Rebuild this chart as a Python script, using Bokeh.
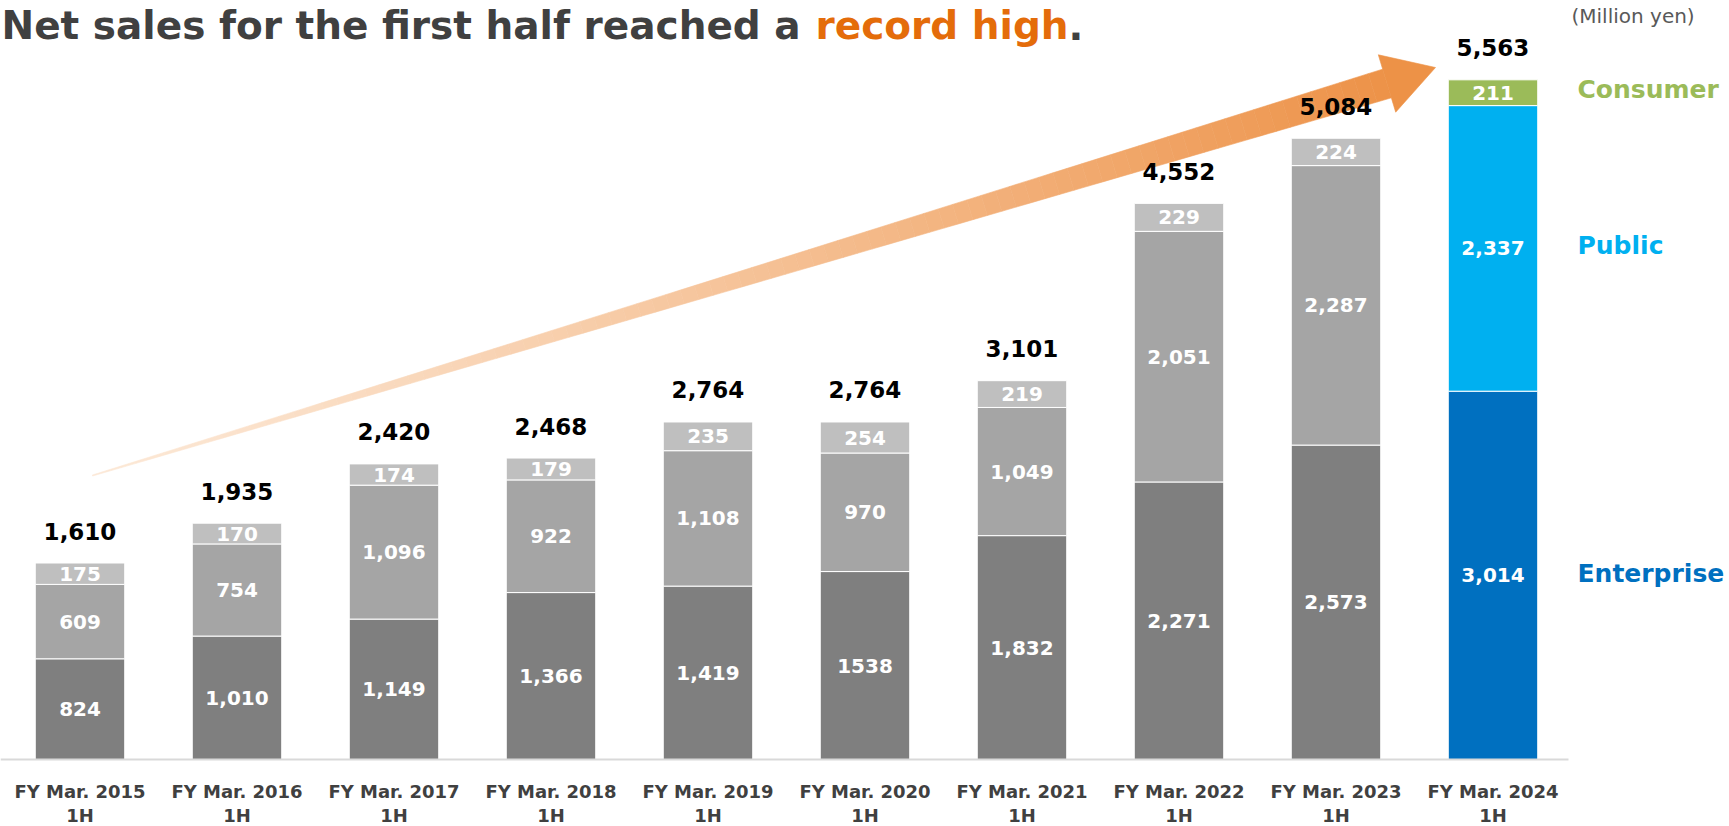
from bokeh.plotting import figure
from bokeh.models import ColumnDataSource, Range1d
from bokeh.core.properties import value
from bokeh.embed import file_html
from bokeh.resources import INLINE

# ---------------- data ----------------
categories = ["FY Mar. 2015", "FY Mar. 2016", "FY Mar. 2017", "FY Mar. 2018", "FY Mar. 2019",
              "FY Mar. 2020", "FY Mar. 2021", "FY Mar. 2022", "FY Mar. 2023", "FY Mar. 2024"]
period = ["1H"] * 10
enterprise = [824, 1010, 1149, 1366, 1419, 1538, 1832, 2271, 2573, 3014]
public = [609, 754, 1096, 922, 1108, 970, 1049, 2051, 2287, 2337]
consumer = [175, 170, 174, 179, 235, 254, 219, 229, 224, 211]
totals = [1610, 1935, 2420, 2468, 2764, 2764, 3101, 4552, 5084, 5563]
enterprise_text = ["824", "1,010", "1,149", "1,366", "1,419", "1538", "1,832", "2,271", "2,573", "3,014"]
segment_names = ["Consumer", "Public", "Enterprise"]

# ---------------- layout constants ----------------
W, H = 1729, 826
X0, DX = 79.5, 157.0          # pixel centre of first bar, pitch
BASE, S = 759.0, 0.1222       # pixel y of zero line, pixels per unit
BAR_W = 0.57

def px2x(fx):
    return (fx - X0) / DX

def px2y(fy):
    return (BASE - fy) / S

FONT = value("DejaVu Sans")

p = figure(width=W, height=H, output_backend="svg", toolbar_location=None,
           x_range=Range1d(px2x(0), px2x(W)), y_range=Range1d(px2y(H), px2y(0)),
           x_axis_type=None, y_axis_type=None, min_border=0)
p.grid.visible = False
p.outline_line_color = None
p.background_fill_color = "white"

# ---------------- arrow (decoration, gradient) ----------------
start = (92, 475)
neck = (1386.5, 83)
tip = (1435, 67)
dxp, dyp = neck[0] - start[0], neck[1] - start[1]
L = (dxp ** 2 + dyp ** 2) ** 0.5
ux, uy = dxp / L, dyp / L
nx, ny = -uy, ux
c0 = (252, 232, 214)
c1 = (237, 146, 72)
NSEG = 90
xs, ys, cols = [], [], []
for k in range(NSEG):
    t0, t1 = k / NSEG, (k + 1) / NSEG
    pts = []
    for t, sgn in ((t0, -1), (t1, -1), (t1, 1), (t0, 1)):
        cx, cy = start[0] + dxp * t, start[1] + dyp * t
        w = 14.5 * t + 0.5
        pts.append((cx + sgn * w * nx, cy + sgn * w * ny))
    xs.append([px2x(a) for a, b in pts])
    ys.append([px2y(b) for a, b in pts])
    tm = ((t0 + t1) / 2) ** 1.2
    c = tuple(int(round(c0[i] + (c1[i] - c0[i]) * tm)) for i in range(3))
    cols.append("#%02x%02x%02x" % c)
p.patches(xs, ys, fill_color=cols, line_color=cols, line_width=0.6)
hw = 30
head = [(neck[0] - hw * nx, neck[1] - hw * ny), tip, (neck[0] + hw * nx, neck[1] + hw * ny)]
p.patch([px2x(a) for a, b in head], [px2y(b) for a, b in head],
        fill_color="#ed9247", line_color="#ed9247", line_width=0.6)

# ---------------- bars ----------------
n = len(categories)
xpos = list(range(n))
ent_col = ["#7f7f7f"] * (n - 1) + ["#0070c0"]
pub_col = ["#a5a5a5"] * (n - 1) + ["#00b0f0"]
con_col = ["#bfbfbf"] * (n - 1) + ["#9bbb59"]
e_top = enterprise[:]
p_top = [enterprise[i] + public[i] for i in range(n)]
c_top = [p_top[i] + consumer[i] for i in range(n)]

src = ColumnDataSource(dict(
    x=xpos, e0=[0] * n, e1=e_top, p1=p_top, c1=c_top,
    ec=ent_col, pc=pub_col, cc=con_col,
    em=[v / 2 for v in e_top],
    pm=[(e_top[i] + p_top[i]) / 2 for i in range(n)],
    cm=[(p_top[i] + c_top[i]) / 2 for i in range(n)],
    et=enterprise_text,
    pt=[f"{v:,}" for v in public],
    ct=[f"{v:,}" for v in consumer],
    tot=[f"{v:,}" for v in totals],
    toty=[c_top[i] + 32 / S for i in range(n)],
))
p.vbar(x="x", width=BAR_W, bottom="e0", top="e1", fill_color="ec", line_color="white", line_width=1, source=src)
p.vbar(x="x", width=BAR_W, bottom="e1", top="p1", fill_color="pc", line_color="white", line_width=1, source=src)
p.vbar(x="x", width=BAR_W, bottom="p1", top="c1", fill_color="cc", line_color="white", line_width=1, source=src)

# baseline
p.segment(x0=[px2x(0)], y0=[0], x1=[px2x(1568)], y1=[0], line_color="#d9d9d9", line_width=2)

# segment labels
for ycol, tcol in (("em", "et"), ("pm", "pt"), ("cm", "ct")):
    p.text(x="x", y=ycol, text=tcol, source=src, text_color="white", text_font=FONT,
           text_font_style="bold", text_font_size="20px", text_align="center", text_baseline="middle")

# totals
p.text(x="x", y="toty", text="tot", source=src, text_color="black", text_font=FONT,
       text_font_style="bold", text_font_size="23px", text_align="center", text_baseline="alphabetic")

# category labels
p.text(x=xpos, y=[px2y(791)] * n, text=categories, text_color="#404040", text_font=FONT,
       text_font_style="bold", text_font_size="18px", text_align="center", text_baseline="alphabetic")
p.text(x=xpos, y=[px2y(815)] * n, text=period, text_color="#404040", text_font=FONT,
       text_font_style="bold", text_font_size="18px", text_align="center", text_baseline="alphabetic")

# segment names at right
last = n - 1
name_y = [src.data["cm"][last] + 3 / S, src.data["pm"][last] + 3 / S, src.data["em"][last] + 2 / S]
p.text(x=[px2x(1577)] * 3, y=name_y, text=segment_names,
       text_color=["#9bbb59", "#00b0f0", "#0070c0"], text_font=FONT, text_font_style="bold",
       text_font_size="25px", text_align="left", text_baseline="middle")

# unit
p.text(x=[px2x(1571)], y=[px2y(15)], text=["(Million yen)"], text_color="#595959", text_font=FONT,
       text_font_size="20px", text_align="left", text_baseline="middle")

# title
TY = px2y(25)
p.text(x=[px2x(1)], y=[TY], text=["Net sales for the first half reached a "], text_color="#404040",
       text_font=FONT, text_font_style="bold", text_font_size="39px", text_align="left", text_baseline="alphabetic")
p.text(x=[px2x(815)], y=[TY], text=["record high"], text_color="#e46c0a",
       text_font=FONT, text_font_style="bold", text_font_size="39px", text_align="left", text_baseline="alphabetic")
p.text(x=[px2x(1068)], y=[TY], text=["."], text_color="#404040",
       text_font=FONT, text_font_style="bold", text_font_size="39px", text_align="left", text_baseline="alphabetic")

open("out.html", "w").write(file_html(p, INLINE))
